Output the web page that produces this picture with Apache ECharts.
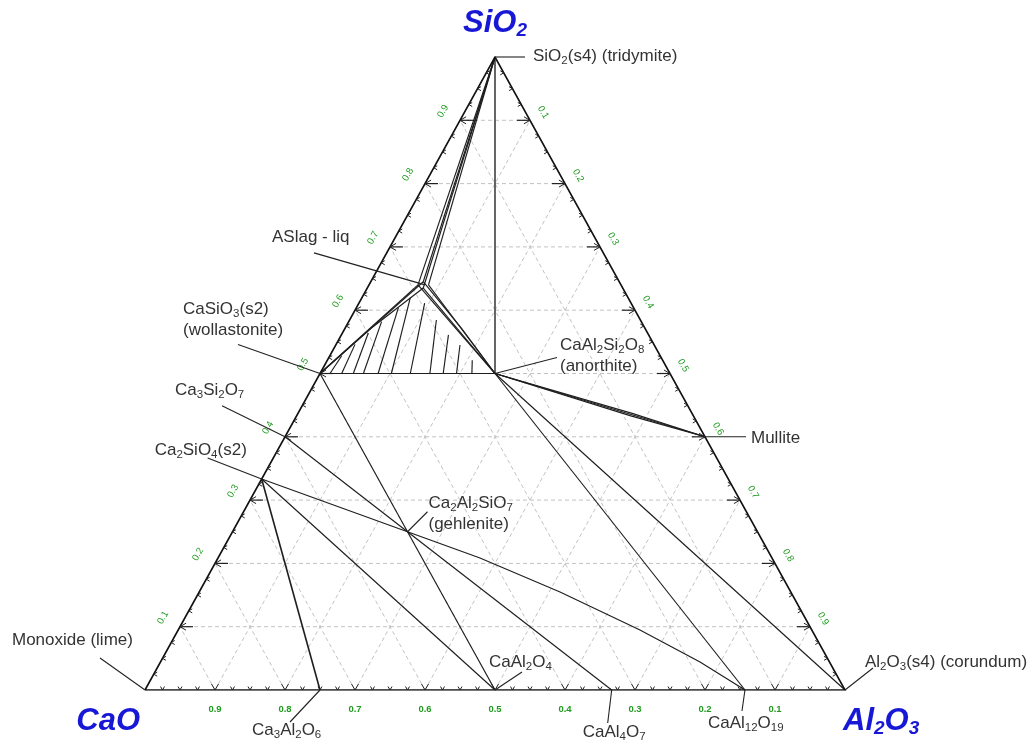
<!DOCTYPE html>
<html>
<head>
<meta charset="utf-8">
<title>CaO - Al2O3 - SiO2</title>
<script src="https://cdn.jsdelivr.net/npm/echarts@6/dist/echarts.min.js"></script>
<style>
html,body{margin:0;padding:0;background:#ffffff;}
#chart{width:1031px;height:742px;}
</style>
</head>
<body>
<div id="chart"></div>
<script>
// All compositions are mole fractions ordered [CaO, Al2O3, SiO2].
const componentTexts = ['{b|CaO}', '{b|Al}{bs|2}{b|O}{bs|3}', '{b|SiO}{bs|2}'];
const componentComps = [[1, 0, 0], [0, 1, 0], [0, 0, 1]];

const tickValues = [0.1, 0.2, 0.3, 0.4, 0.5, 0.6, 0.7, 0.8, 0.9];
const tickLabels = ['0.1', '0.2', '0.3', '0.4', '0.5', '0.6', '0.7', '0.8', '0.9'];

const phaseKeys = ['tridymite', 'liquid', 'wollastonite', 'anorthite', 'rankinite', 'larnite',
  'gehlenite', 'mullite', 'lime', 'CaAl2O4', 'Ca3Al2O6', 'CaAl4O7', 'CaAl12O19', 'corundum'];
const phaseComps = [
  [0, 0, 1],
  [0.28, 0.08, 0.64],
  [0.5, 0, 0.5],
  [0.25, 0.25, 0.5],
  [0.6, 0, 0.4],
  [0.6667, 0, 0.3333],
  [0.5, 0.25, 0.25],
  [0, 0.6, 0.4],
  [1, 0, 0],
  [0.5, 0.5, 0],
  [0.75, 0.25, 0],
  [0.3333, 0.6667, 0],
  [0.1429, 0.8571, 0],
  [0, 1, 0]
];
const phaseTexts = [
  'SiO{s|2}(s4) (tridymite)',
  'ASlag - liq',
  'CaSiO{s|3}(s2)\n(wollastonite)',
  'CaAl{s|2}Si{s|2}O{s|8}\n(anorthite)',
  'Ca{s|3}Si{s|2}O{s|7}',
  'Ca{s|2}SiO{s|4}(s2)',
  'Ca{s|2}Al{s|2}SiO{s|7}\n(gehlenite)',
  'Mullite',
  'Monoxide (lime)',
  'CaAl{s|2}O{s|4}',
  'Ca{s|3}Al{s|2}O{s|6}',
  'CaAl{s|4}O{s|7}',
  'CaAl{s|12}O{s|19}',
  'Al{s|2}O{s|3}(s4) (corundum)'
];

// Straight two-phase tie lines between stoichiometric phases
const tieLines = [
  ['tridymite', 'anorthite'],
  ['wollastonite', 'anorthite'],
  ['anorthite', 'corundum'],
  ['anorthite', 'CaAl12O19'],
  ['wollastonite', 'CaAl2O4'],
  ['rankinite', 'gehlenite'],
  ['larnite', 'gehlenite'],
  ['larnite', 'CaAl2O4'],
  ['larnite', 'Ca3Al2O6'],
  ['gehlenite', 'CaAl4O7']
];

// Boundaries of the fields around the slag liquid
const liquidBoundaries = [
  [[0, 0, 1], [0.29, 0.07, 0.64]],
  [[0, 0, 1], [0.285, 0.08, 0.635]],
  [[0, 0, 1], [0.275, 0.085, 0.64]],
  [[0, 0, 1], [0.28, 0.075, 0.645]],
  [[0.5, 0, 0.5], [0.29, 0.07, 0.64]],
  [[0.5, 0, 0.5], [0.28, 0.075, 0.645]],
  [[0.5, 0, 0.5], [0.392, 0.037, 0.571], [0.285, 0.08, 0.635]],
  [[0.25, 0.25, 0.5], [0.29, 0.07, 0.64]],
  [[0.25, 0.25, 0.5], [0.275, 0.085, 0.64]],
  [[0.25, 0.25, 0.5], [0.285, 0.08, 0.635]],
  [[0.25, 0.25, 0.5], [0.262, 0.168, 0.57], [0.28, 0.075, 0.645]]
];

// Anorthite + mullite bundle
const mulliteBoundaries = [
  [[0.25, 0.25, 0.5], [0, 0.6, 0.4]],
  [[0.25, 0.25, 0.5], [0.0855, 0.4775, 0.437], [0, 0.6, 0.4]],
  [[0.25, 0.25, 0.5], [0.0895, 0.4775, 0.433], [0, 0.6, 0.4]]
];

// Gehlenite to hibonite boundary (slightly curved)
const gehleniteHibonite = [
  [0.5, 0.25, 0.25], [0.4172, 0.3743, 0.2085], [0.3297, 0.5155, 0.1548],
  [0.2455, 0.6597, 0.0948], [0.185, 0.7708, 0.0442], [0.1429, 0.8571, 0]
];

// Tie lines inside the wollastonite + anorthite + liquid field
const hatchLines = [
  [[0.4857, 0.0143, 0.5], [0.455, 0.017, 0.528]],
  [[0.469, 0.031, 0.5], [0.427, 0.027, 0.546]],
  [[0.4524, 0.0476, 0.5], [0.399, 0.037, 0.564]],
  [[0.438, 0.062, 0.5], [0.371, 0.047, 0.582]],
  [[0.417, 0.083, 0.5], [0.336, 0.06, 0.604]],
  [[0.398, 0.102, 0.5], [0.311, 0.069, 0.62]],
  [[0.371, 0.129, 0.5], [0.295, 0.094, 0.611]],
  [[0.343, 0.157, 0.5], [0.2915, 0.124, 0.5845]],
  [[0.324, 0.176, 0.5], [0.286, 0.153, 0.561]],
  [[0.305, 0.195, 0.5], [0.2775, 0.1775, 0.545]],
  [[0.283, 0.217, 0.5], [0.272, 0.207, 0.521]]
];

// ---- drawing ----
const FONT = 'Liberation Sans';
const LINE = '#1e1e1e';

// ternary -> cartesian data coordinates (x: 0..1 along the base, y: SiO2 fraction)
function xy(t) { return [t[1] + t[2] / 2, t[2]]; }
function comp(key) { return phaseComps[phaseKeys.indexOf(key)]; }

// Label placement around each phase point (pixels)
const labelLayout = {
  tridymite:   { lead: [30, 0],    text: [38, -1],    align: 'left' },
  liquid:      { lead: [-111, -32], text: [-153, -48], align: 'left' },
  wollastonite:{ lead: [-82, -29],  text: [-137, -54], align: 'left' },
  anorthite:   { lead: [62, -16],  text: [65, -18],   align: 'left' },
  rankinite:   { lead: [-63, -31], text: [-110, -46], align: 'left' },
  larnite:     { lead: [-54, -21], text: [-107, -29], align: 'left' },
  gehlenite:   { lead: [20, -20],  text: [21, -18],   align: 'left' },
  mullite:     { lead: [41, 0],    text: [46, 2],     align: 'left' },
  lime:        { lead: [-45, -32], text: [-133, -50], align: 'left' },
  CaAl2O4:     { lead: [27, -18],  text: [-6, -28],   align: 'left' },
  Ca3Al2O6:    { lead: [-30, 32],  text: [-68, 40],   align: 'left' },
  CaAl4O7:     { lead: [-4, 33],   text: [-29, 42],   align: 'left' },
  CaAl12O19:   { lead: [-3, 21],   text: [-37, 33],   align: 'left' },
  corundum:    { lead: [28, -22],  text: [20, -28],   align: 'left' }
};
const componentLayout = [
  { text: [-5, 31], align: 'right' },
  { text: [-2, 31], align: 'left' },
  { text: [0, -34], align: 'center' }
];

// dashed composition grid
const gridLines = [];
tickValues.forEach(function (v) {
  gridLines.push({ coords: [xy([1 - v, 0, v]), xy([0, 1 - v, v])] });
  gridLines.push({ coords: [xy([v, 1 - v, 0]), xy([v, 0, 1 - v])] });
  gridLines.push({ coords: [xy([1 - v, v, 0]), xy([0, v, 1 - v])] });
});

// edge ticks every 0.025, major every 0.1
const tickStep = 0.025;
const tickData = [];
for (let k = 1; k < 40; k++) {
  const v = k * tickStep;
  const major = k % 4 === 0 ? 1 : 0;
  tickData.push(xy([v, 1 - v, 0]).concat([0, major]));
  tickData.push(xy([1 - v, 0, v]).concat([1, major]));
  tickData.push(xy([0, v, 1 - v]).concat([2, major]));
}
const tickLabelData = [];
tickValues.forEach(function (v, i) {
  tickLabelData.push(xy([v, 1 - v, 0]).concat([0, i]));
  tickLabelData.push(xy([1 - v, 0, v]).concat([1, i]));
  tickLabelData.push(xy([0, v, 1 - v]).concat([2, i]));
});

const phaseLines = [];
tieLines.forEach(function (p, i) {
  const item = { coords: [xy(comp(p[0])), xy(comp(p[1]))] };
  if (i === 0) item.lineStyle = { color: '#555555', width: 1.8 };
  if (p[0] === 'larnite' && p[1] === 'Ca3Al2O6') item.lineStyle = { color: LINE, width: 1.6 };
  phaseLines.push(item);
});
liquidBoundaries.concat(mulliteBoundaries, hatchLines, [gehleniteHibonite]).forEach(function (pl) {
  phaseLines.push({ coords: pl.map(xy) });
});

const edgeLine = [{ coords: [xy([1, 0, 0]), xy([0, 1, 0]), xy([0, 0, 1]), xy([1, 0, 0])] }];

const labelData = phaseKeys.map(function (k, i) { return xy(phaseComps[i]).concat([i]); });
const componentData = componentComps.map(function (c, i) { return xy(c).concat([i]); });

const chart = echarts.init(document.getElementById('chart'), null, { renderer: 'canvas' });
chart.setOption({
  animation: false,
  backgroundColor: '#ffffff',
  grid: { left: 145, right: 186, top: 57, bottom: 52 },
  xAxis: { type: 'value', min: 0, max: 1, show: false },
  yAxis: { type: 'value', min: 0, max: 1, show: false },
  series: [
    {
      type: 'lines', coordinateSystem: 'cartesian2d', polyline: true, silent: true, z: 1,
      lineStyle: { color: '#c2c2c2', width: 1, type: [4, 3], opacity: 1 },
      data: gridLines
    },
    {
      type: 'lines', coordinateSystem: 'cartesian2d', polyline: true, silent: true, z: 2,
      lineStyle: { color: LINE, width: 1.15, opacity: 1 },
      data: phaseLines
    },
    {
      type: 'lines', coordinateSystem: 'cartesian2d', polyline: true, silent: true, z: 3,
      lineStyle: { color: '#111111', width: 1.6, opacity: 1 },
      data: edgeLine
    },
    {
      type: 'custom', silent: true, z: 4,
      encode: { x: 0, y: 1 },
      data: tickData,
      renderItem: function (params, api) {
        const p = api.coord([api.value(0), api.value(1)]);
        const edge = api.value(2), major = api.value(3);
        const L = major ? 7 : 4;
        const a = Math.cos(Math.PI / 6) * L, b = Math.sin(Math.PI / 6) * L;
        let pts, shaft = null;
        if (edge === 0) {
          pts = [[p[0] - b, p[1] - a], [p[0], p[1]], [p[0] + b, p[1] - a]];
        } else if (edge === 1) {
          pts = [[p[0] + a, p[1] - b], [p[0], p[1]], [p[0] + a, p[1] + b]];
          if (major) shaft = [[p[0], p[1]], [p[0] + 13, p[1]]];
        } else {
          pts = [[p[0] - a, p[1] - b], [p[0], p[1]], [p[0] - a, p[1] + b]];
          if (major) shaft = [[p[0], p[1]], [p[0] - 13, p[1]]];
        }
        const children = [{ type: 'polyline', shape: { points: pts }, style: { stroke: '#222', lineWidth: 1, fill: null } }];
        if (shaft) children.push({ type: 'polyline', shape: { points: shaft }, style: { stroke: '#222', lineWidth: 1.2, fill: null } });
        return { type: 'group', children: children };
      }
    },
    {
      type: 'custom', silent: true, z: 5,
      encode: { x: 0, y: 1 },
      data: tickLabelData,
      renderItem: function (params, api) {
        const p = api.coord([api.value(0), api.value(1)]);
        const edge = api.value(2), i = api.value(3);
        const off = edge === 0 ? [0, 19] : (edge === 1 ? [-17, -9] : [13, -8]);
        const rot = edge === 0 ? 0 : (edge === 1 ? Math.PI / 3 : -Math.PI / 3);
        return {
          type: 'text', x: p[0] + off[0], y: p[1] + off[1], rotation: rot,
          style: {
            text: tickLabels[i], align: 'center', verticalAlign: 'middle',
            fill: '#1f9a1f', fontFamily: FONT, fontSize: 9.5,
            fontWeight: edge === 0 ? 'bold' : 'normal'
          }
        };
      }
    },
    {
      type: 'custom', silent: true, z: 6,
      encode: { x: 0, y: 1 },
      data: labelData,
      renderItem: function (params, api) {
        const p = api.coord([api.value(0), api.value(1)]);
        const i = api.value(2);
        const lay = labelLayout[phaseKeys[i]];
        return {
          type: 'group', children: [
            { type: 'line', shape: { x1: p[0], y1: p[1], x2: p[0] + lay.lead[0], y2: p[1] + lay.lead[1] },
              style: { stroke: '#222', lineWidth: 1.1 } },
            { type: 'text', x: p[0] + lay.text[0], y: p[1] + lay.text[1],
              style: {
                text: phaseTexts[i], align: lay.align, verticalAlign: 'middle',
                fill: '#333333', fontFamily: FONT, fontSize: 17, lineHeight: 21,
                rich: { s: { fontFamily: FONT, fontSize: 11.5, lineHeight: 12, verticalAlign: 'bottom', fill: '#333333' } }
              } }
          ]
        };
      }
    },
    {
      type: 'custom', silent: true, z: 7,
      encode: { x: 0, y: 1 },
      data: componentData,
      renderItem: function (params, api) {
        const p = api.coord([api.value(0), api.value(1)]);
        const i = api.value(2);
        const lay = componentLayout[i];
        return {
          type: 'text', x: p[0] + lay.text[0], y: p[1] + lay.text[1],
          style: {
            text: componentTexts[i], align: lay.align, verticalAlign: 'middle',
            rich: {
              b: { fontFamily: FONT, fontSize: 31, fontWeight: 'bold', fontStyle: 'italic', fill: '#1717d6', lineHeight: 34 },
              bs: { fontFamily: FONT, fontSize: 19, fontWeight: 'bold', fontStyle: 'italic', fill: '#1717d6', lineHeight: 20, verticalAlign: 'bottom' }
            }
          }
        };
      }
    }
  ]
});
</script>
</body>
</html>
